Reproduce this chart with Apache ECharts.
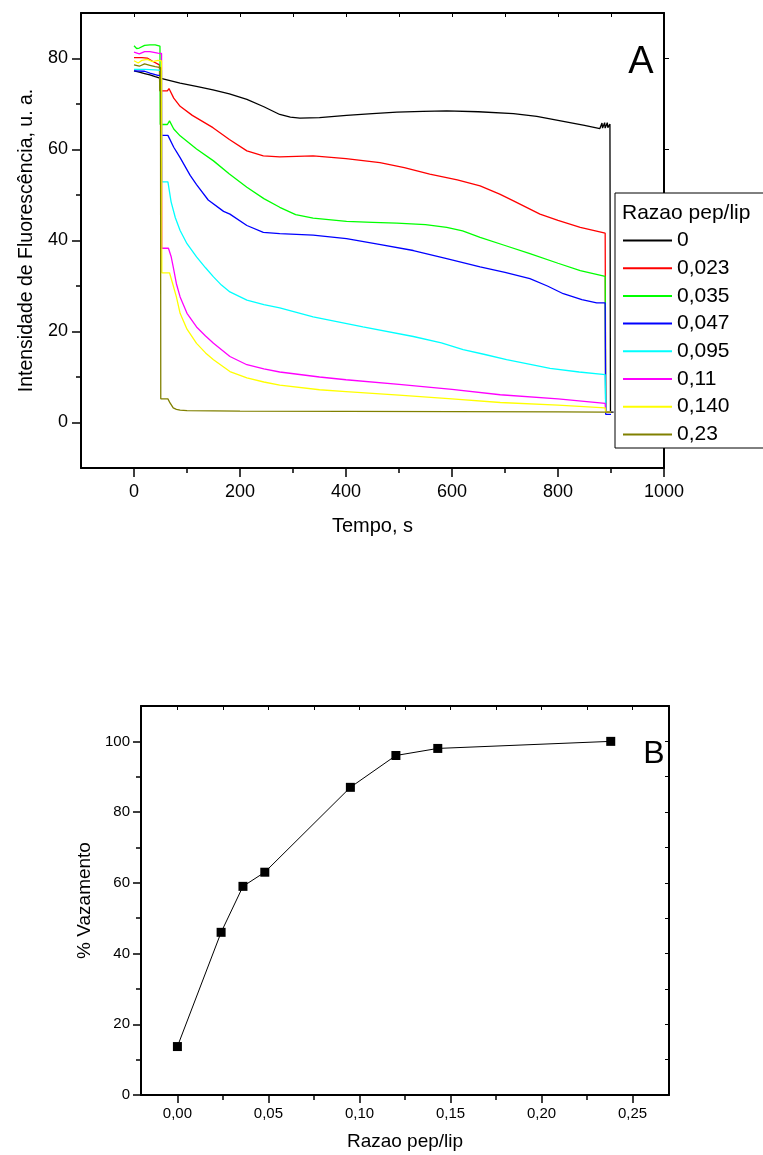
<!DOCTYPE html>
<html>
<head>
<meta charset="utf-8">
<script src="https://cdn.jsdelivr.net/npm/echarts@6/dist/echarts.min.js"></script>
<style>
html,body{margin:0;padding:0;background:#fff;}
#chart{width:763px;height:1155px;}
</style>
</head>
<body>
<div id="chart"></div>
<script>
// ---------- Panel A data: [tempo (s), intensidade] ----------
var seriesNamesA = ['0', '0,023', '0,035', '0,047', '0,095', '0,11', '0,140', '0,23'];
var seriesColorsA = ['#000000', '#ff0000', '#00ff00', '#0000ff', '#00ffff', '#ff00ff', '#ffff00', '#808000'];

var ratio_0 = [[0,77.3],[10,77.0],[20,76.7],[30,76.4],[40,76.0],[49,75.7],[87,74.6],[120,73.8],[149,73.1],[180,72.2],[213,71.0],[245,69.4],[275,67.7],[295,67.1],[313,66.9],[350,67.0],[401,67.5],[450,67.9],[496,68.2],[545,68.4],[590,68.5],[650,68.3],[716,67.9],[760,67.3],[810,66.2],[850,65.3],[879,64.6],[883,65.8],[884,64.7],[888,65.9],[889,64.7],[893,65.9],[894,64.8],[898,65.6],[899,2.3],[905,2.3]];
var ratio_0023 = [[0,80.2],[15,80.2],[25,80.1],[35,79.4],[48,78.6],[48.5,72.9],[63,72.9],[66,73.4],[75,71.3],[87,69.5],[110,67.5],[149,64.8],[180,62.2],[213,59.7],[244,58.6],[275,58.4],[338,58.6],[400,58.0],[464,57.1],[510,56.0],[558,54.6],[610,53.3],[653,52.0],[690,50.2],[716,48.7],[766,45.8],[800,44.4],[842,42.9],[889,41.6],[890,2.3],[900,2.3]];
var ratio_0035 = [[0,82.8],[5,82.2],[10,82.3],[20,82.9],[30,83.0],[40,83.0],[49,82.7],[49.5,65.5],[63,65.5],[67,66.3],[75,64.5],[87,63.0],[118,60.1],[150,57.5],[180,54.6],[213,51.7],[245,49.2],[275,47.3],[305,45.7],[338,44.9],[401,44.2],[450,44.0],[496,43.8],[550,43.5],[590,42.9],[620,42.1],[653,40.7],[700,38.9],[747,37.1],[800,35.0],[842,33.4],[889,32.1],[890,2.3],[900,2.3]];
var ratio_0047 = [[0,77.3],[20,77.2],[30,76.8],[45,76.3],[51,76.3],[51.5,63.1],[64,63.1],[75,60.5],[87,58.2],[106,54.3],[118,52.3],[140,48.9],[169,46.4],[181,45.8],[213,43.3],[244,41.8],[275,41.5],[338,41.2],[401,40.4],[460,39.2],[527,37.8],[590,36.0],[653,34.2],[700,33.0],[747,31.6],[780,30.0],[810,28.3],[845,27.0],[873,26.3],[889,26.3],[890,1.8],[900,1.8]];
var ratio_0095 = [[0,77.6],[20,77.6],[40,77.5],[52,77.4],[52.5,52.9],[64,52.9],[70,48.5],[78,45.0],[87,42.2],[100,39.3],[118,36.4],[135,34.0],[150,32.0],[165,30.2],[181,28.7],[213,26.9],[245,25.9],[275,25.2],[338,23.2],[432,21.0],[527,18.9],[580,17.5],[621,16.0],[660,15.0],[703,13.8],[750,12.7],[785,11.9],[840,11.1],[889,10.5],[890,2.3],[900,2.3]];
var ratio_011 = [[0,81.4],[10,81.0],[20,81.5],[30,81.5],[45,81.2],[52,81.1],[52.5,38.3],[65,38.3],[70,36.5],[74,34.2],[80,30.5],[87,27.6],[100,24.0],[118,21.0],[135,19.0],[150,17.4],[181,14.5],[213,12.7],[245,11.8],[275,11.1],[350,10.0],[400,9.4],[500,8.4],[600,7.3],[691,6.1],[800,5.2],[889,4.2],[890,2.3],[900,2.3]];
var ratio_0140 = [[0,79.5],[8,79.0],[15,79.6],[25,79.8],[35,79.3],[45,79.6],[52,79.5],[52.5,32.9],[67,32.9],[73,30.5],[80,27.6],[87,24.0],[100,20.5],[118,17.4],[135,15.3],[150,13.8],[181,11.2],[213,9.8],[245,8.9],[275,8.2],[350,7.2],[400,6.8],[500,6.0],[600,5.2],[691,4.4],[800,3.8],[889,3.2],[890,2.3],[900,2.3]];
var ratio_023 = [[0,78.6],[10,78.3],[20,78.8],[30,78.5],[40,78.2],[50,78.0],[50.5,5.2],[64,5.2],[68,4.3],[74,3.2],[80,2.9],[87,2.7],[100,2.6],[200,2.5],[400,2.45],[600,2.4],[800,2.35],[889,2.3],[900,2.3]];
var dataA = [ratio_0, ratio_0023, ratio_0035, ratio_0047, ratio_0095, ratio_011, ratio_0140, ratio_023];

var xTicksA = [0, 200, 400, 600, 800, 1000];
var xMinorA = [100, 300, 500, 700, 900];
var xTopA = [0, 100, 200, 300, 400, 500, 600, 700, 800, 900];
var yTicksA = [0, 20, 40, 60, 80];
var yMinorA = [10, 30, 50, 70];

// ---------- Panel B data ----------
var razaoB = [0, 0.024, 0.036, 0.048, 0.095, 0.12, 0.143, 0.238];
var vazamentoB = [13.7, 46, 59, 63, 87, 96, 98, 100];
var xTicksB = [0, 0.05, 0.10, 0.15, 0.20, 0.25];
var xMinorB = [0.025, 0.075, 0.125, 0.175, 0.225];
var xTopB = [0, 0.025, 0.05, 0.075, 0.10, 0.125, 0.15, 0.175, 0.20, 0.225, 0.25];
var yTicksB = [0, 20, 40, 60, 80, 100];
var yMinorB = [10, 30, 50, 70, 90];
var yRightB = [10, 20, 30, 40, 50, 60, 70, 80, 90, 100];

var FONT = 'Liberation Sans';
var chart = echarts.init(document.getElementById('chart'), null, {renderer: 'canvas'});

function axisBase(extra) {
  var o = {
    type: 'value', splitLine: {show: false},
    axisLine: {show: false, onZero: false, lineStyle: {color: '#000', width: 2}},
    axisTick: {show: false},
    axisLabel: {show: false}
  };
  for (var k in extra) o[k] = extra[k];
  return o;
}
var frameLine = {show: true, onZero: false, lineStyle: {color: '#000', width: 2}};

var pairsB = razaoB.map(function (r, i) { return [r, vazamentoB[i]]; });

var option = {
  animation: false,
  backgroundColor: '#fff',
  grid: [
    {left: 81, top: 13, width: 583, height: 455},
    {left: 141, top: 706, width: 528, height: 389}
  ],
  xAxis: [
    axisBase({gridIndex: 0, position: 'bottom', min: -100, max: 1000,
      axisLine: frameLine,
      axisTick: {show: true, customValues: xTicksA, length: 9, lineStyle: {color: '#000', width: 1.5}},
      axisLabel: {show: true, customValues: xTicksA, margin: 15, fontSize: 18, fontFamily: FONT, color: '#000',
        formatter: function (v) { return String(v); }},
      name: 'Tempo, s', nameLocation: 'middle', nameGap: 48,
      nameTextStyle: {fontSize: 20, fontFamily: FONT, color: '#000'}}),
    axisBase({gridIndex: 0, position: 'bottom', min: -100, max: 1000,
      axisTick: {show: true, customValues: xMinorA, length: 5, lineStyle: {color: '#000', width: 1.5}}}),
    axisBase({gridIndex: 0, position: 'top', min: -100, max: 1000,
      axisLine: frameLine,
      axisTick: {show: true, inside: true, customValues: xTopA, length: 4, lineStyle: {color: '#000', width: 1}}}),
    axisBase({gridIndex: 1, position: 'bottom', min: -0.02, max: 0.27,
      axisLine: frameLine,
      axisTick: {show: true, customValues: xTicksB, length: 8, lineStyle: {color: '#000', width: 1.5}},
      axisLabel: {show: true, customValues: xTicksB, margin: 11, fontSize: 15, fontFamily: FONT, color: '#000',
        formatter: function (v) { return v.toFixed(2).replace('.', ','); }},
      name: 'Razao pep/lip', nameLocation: 'middle', nameGap: 37,
      nameTextStyle: {fontSize: 19, fontFamily: FONT, color: '#000'}}),
    axisBase({gridIndex: 1, position: 'bottom', min: -0.02, max: 0.27,
      axisTick: {show: true, customValues: xMinorB, length: 5, lineStyle: {color: '#000', width: 1.5}}}),
    axisBase({gridIndex: 1, position: 'top', min: -0.02, max: 0.27,
      axisLine: frameLine,
      axisTick: {show: true, inside: true, customValues: xTopB, length: 4, lineStyle: {color: '#000', width: 1}}})
  ],
  yAxis: [
    axisBase({gridIndex: 0, position: 'left', min: -10, max: 90,
      axisLine: frameLine,
      axisTick: {show: true, customValues: yTicksA, length: 9, lineStyle: {color: '#000', width: 1.5}},
      axisLabel: {show: true, customValues: yTicksA, margin: 13, fontSize: 18, fontFamily: FONT, color: '#000'},
      name: 'Intensidade de Fluorescência, u. a.', nameLocation: 'middle', nameGap: 44,
      nameTextStyle: {fontSize: 19.5, fontFamily: FONT, color: '#000'}}),
    axisBase({gridIndex: 0, position: 'left', min: -10, max: 90,
      axisTick: {show: true, customValues: yMinorA, length: 5, lineStyle: {color: '#000', width: 1.5}}}),
    axisBase({gridIndex: 0, position: 'right', min: -10, max: 90,
      axisLine: frameLine,
      axisTick: {show: true, customValues: yTicksA, length: 5, lineStyle: {color: '#000', width: 1}}}),
    axisBase({gridIndex: 1, position: 'left', min: 0, max: 110,
      axisLine: frameLine,
      axisTick: {show: true, customValues: yTicksB, length: 8, lineStyle: {color: '#000', width: 1.5}},
      axisLabel: {show: true, customValues: yTicksB, margin: 11, fontSize: 15, fontFamily: FONT, color: '#000'},
      name: '% Vazamento', nameLocation: 'middle', nameGap: 43,
      nameTextStyle: {fontSize: 19, fontFamily: FONT, color: '#000'}}),
    axisBase({gridIndex: 1, position: 'left', min: 0, max: 110,
      axisTick: {show: true, customValues: yMinorB, length: 5, lineStyle: {color: '#000', width: 1.5}}}),
    axisBase({gridIndex: 1, position: 'right', min: 0, max: 110,
      axisLine: frameLine,
      axisTick: {show: true, inside: true, customValues: yRightB, length: 4, lineStyle: {color: '#000', width: 1}}})
  ],
  legend: {
    show: true, orient: 'vertical', left: 623, top: 230, z: 20,
    padding: 0, icon: 'rect', itemWidth: 49, itemHeight: 2, itemGap: 6.7, selectedMode: false,
    textStyle: {fontSize: 21, fontFamily: FONT, color: '#000', lineHeight: 20},
    data: seriesNamesA
  },
  graphic: [
    {type: 'rect', z: 15, shape: {x: 615, y: 193, width: 200, height: 255},
      style: {fill: '#fff', stroke: '#000', lineWidth: 1}},
    {type: 'text', z: 16, x: 622, y: 213,
      style: {text: 'Razao pep/lip', font: '21px "Liberation Sans"', fill: '#000', verticalAlign: 'middle', textVerticalAlign: 'middle'}},
    {type: 'text', z: 16, x: 641, y: 63,
      style: {text: 'A', font: '38px "Liberation Sans"', fill: '#000', align: 'center', verticalAlign: 'middle', textAlign: 'center', textVerticalAlign: 'middle'}},
    {type: 'text', z: 16, x: 654, y: 754,
      style: {text: 'B', font: '32px "Liberation Sans"', fill: '#000', align: 'center', verticalAlign: 'middle', textAlign: 'center', textVerticalAlign: 'middle'}}
  ],
  series: []
};

for (var i = 0; i < dataA.length; i++) {
  option.series.push({
    name: seriesNamesA[i], type: 'line', xAxisIndex: 0, yAxisIndex: 0,
    data: dataA[i], symbol: 'none', showSymbol: false, smooth: false,
    lineStyle: {color: seriesColorsA[i], width: 1.3},
    itemStyle: {color: seriesColorsA[i]},
    z: 2, clip: true
  });
}
option.series.push({
  name: 'Vazamento', type: 'line', xAxisIndex: 3, yAxisIndex: 3,
  data: pairsB, symbol: 'rect', symbolSize: 9, showSymbol: true,
  lineStyle: {color: '#000', width: 1}, itemStyle: {color: '#000'}
});

chart.setOption(option);
</script>
</body>
</html>
